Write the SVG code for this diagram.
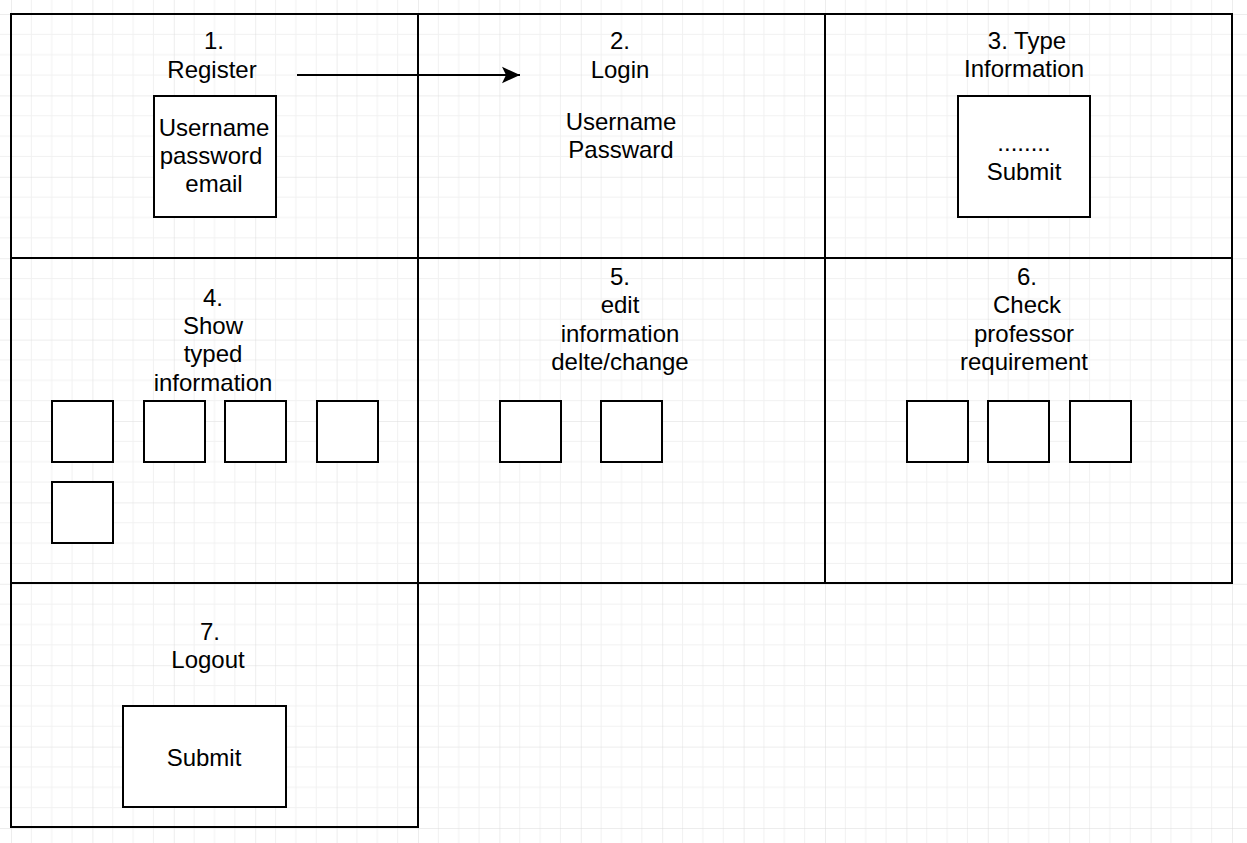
<svg xmlns="http://www.w3.org/2000/svg" width="1247" height="843" viewBox="0 0 1247 843">
  <defs>
    <pattern id="grid" patternUnits="userSpaceOnUse" x="11" y="14" width="81.4" height="81.4">
      <path d="M20.35 0V81.4M40.7 0V81.4M61.05 0V81.4M0 20.35H81.4M0 40.7H81.4M0 61.05H81.4" stroke="#f1f1f1" stroke-width="1" fill="none"/>
      <path d="M0 0V81.4M0 0H81.4" stroke="#dcdcdc" stroke-width="1" fill="none"/>
    </pattern>
    <marker id="arrow" markerUnits="userSpaceOnUse" markerWidth="20" markerHeight="20" refX="19" refY="9" orient="auto">
      <path d="M1 0.7 L19 9 L1 17.3 L5 9 Z" fill="#000"/>
    </marker>
  </defs>
  <style>
    .cell { fill: none; stroke: #000; stroke-width: 2; }
    .box { fill: #fff; stroke: #000; stroke-width: 2; }
    text { font-family: "Liberation Sans", Arial, sans-serif; font-size: 24px; fill: #000; text-anchor: middle; }
  </style>
  <rect width="1247" height="843" fill="#fff"/>
  <rect width="1247" height="843" fill="url(#grid)"/>

  <g id="cell1">
    <rect class="cell" x="11" y="14" width="407" height="244"/>
    <text x="214" y="49">1.</text>
    <text x="212" y="78">Register</text>
    <rect class="box" x="154" y="96" width="122" height="121"/>
    <text x="214" y="136">Username</text>
    <text x="211" y="164">password</text>
    <text x="214" y="192">email</text>
  </g>
  <g id="cell2">
    <rect class="cell" x="418" y="14" width="407" height="244"/>
    <text x="620" y="49">2.</text>
    <text x="620" y="78">Login</text>
    <text x="621" y="130">Username</text>
    <text x="621" y="158">Passward</text>
  </g>
  <g id="cell3">
    <rect class="cell" x="825" y="14" width="407" height="244"/>
    <text x="1027" y="49">3. Type</text>
    <text x="1024" y="77">Information</text>
    <rect class="box" x="958" y="96" width="132" height="121"/>
    <text x="1024" y="151">........</text>
    <text x="1024" y="180">Submit</text>
  </g>
  <g id="cell4">
    <rect class="cell" x="11" y="258" width="407" height="325"/>
    <text x="213" y="306">4.</text>
    <text x="213" y="334">Show</text>
    <text x="213" y="362">typed</text>
    <text x="213" y="391">information</text>
    <rect class="box" x="52" y="401" width="61" height="61"/>
    <rect class="box" x="144" y="401" width="61" height="61"/>
    <rect class="box" x="225" y="401" width="61" height="61"/>
    <rect class="box" x="317" y="401" width="61" height="61"/>
    <rect class="box" x="52" y="482" width="61" height="61"/>
  </g>
  <g id="cell5">
    <rect class="cell" x="418" y="258" width="407" height="325"/>
    <text x="620" y="285">5.</text>
    <text x="620" y="313">edit</text>
    <text x="620" y="342">information</text>
    <text x="620" y="370">delte/change</text>
    <rect class="box" x="500" y="401" width="61" height="61"/>
    <rect class="box" x="601" y="401" width="61" height="61"/>
  </g>
  <g id="cell6">
    <rect class="cell" x="825" y="258" width="407" height="325"/>
    <text x="1027" y="285">6.</text>
    <text x="1027" y="313">Check</text>
    <text x="1024" y="342">professor</text>
    <text x="1024" y="370">requirement</text>
    <rect class="box" x="907" y="401" width="61" height="61"/>
    <rect class="box" x="988" y="401" width="61" height="61"/>
    <rect class="box" x="1070" y="401" width="61" height="61"/>
  </g>
  <g id="cell7">
    <rect class="cell" x="11" y="583" width="407" height="244"/>
    <text x="210" y="640">7.</text>
    <text x="208" y="668">Logout</text>
    <rect class="box" x="123" y="706" width="163" height="101"/>
    <text x="204" y="766">Submit</text>
  </g>

  <g id="connectors">
    <line x1="297" y1="75" x2="520" y2="75" stroke="#000" stroke-width="2" marker-end="url(#arrow)"/>
  </g>
</svg>
